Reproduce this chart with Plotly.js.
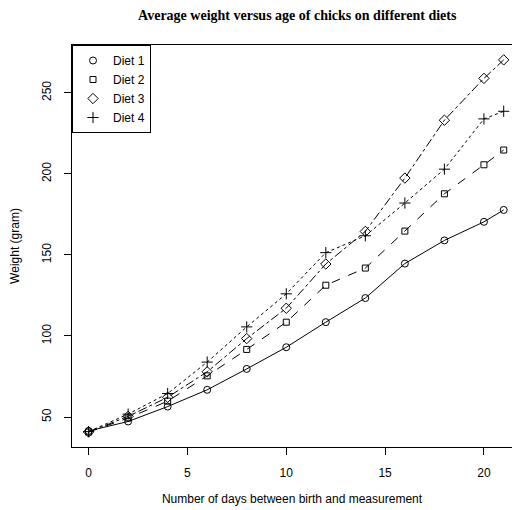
<!DOCTYPE html>
<html>
<head>
<meta charset="utf-8">
<script src="https://cdn.plot.ly/plotly-3.0.1.min.js"></script>
<style>html,body{margin:0;padding:0;background:#fff;}#chart{width:512px;height:510px;}</style>
</head>
<body>
<div id="chart"></div>
<script>
const days = [0, 2, 4, 6, 8, 10, 12, 14, 16, 18, 20, 21];
const diet1 = [41.4, 47.25, 56.47, 66.79, 79.68, 93.05, 108.53, 123.39, 144.65, 158.94, 170.41, 177.75];
const diet2 = [40.7, 49.4, 59.8, 75.4, 91.7, 108.5, 131.3, 141.9, 164.7, 187.7, 205.6, 214.7];
const diet3 = [40.8, 50.4, 62.2, 77.9, 98.4, 117.1, 144.4, 164.5, 197.4, 233.1, 258.9, 270.3];
const diet4 = [41.0, 51.8, 64.5, 83.9, 105.6, 126.0, 151.4, 161.8, 182.0, 202.9, 233.9, 238.6];
const seriesNames = ['Diet 1', 'Diet 2', 'Diet 3', 'Diet 4'];
const xTicks = [0, 5, 10, 15, 20];
const yTicks = [50, 100, 150, 200, 250];

const allY = [].concat(diet1, diet2, diet3, diet4);
const yMin = Math.min(...allY), yMax = Math.max(...allY);
const yPad = (yMax - yMin) * 0.04;
const xPad = 21 * 0.04;

const styles = [
  {symbol: 'circle-open', dash: 'solid', size: 7},
  {symbol: 'square-open', dash: 'dash', size: 6},
  {symbol: 'diamond-open', dash: 'dashdot', size: 8},
  {symbol: 'cross-thin-open', dash: 'dot', size: 8}
];
const data = [diet1, diet2, diet3, diet4].map((ys, i) => ({
  x: days, y: ys, name: seriesNames[i], type: 'scatter', mode: 'lines+markers', showlegend: false,
  line: {color: '#000', width: 1, dash: styles[i].dash},
  marker: {symbol: styles[i].symbol, size: styles[i].size, color: '#000', line: {color: '#000', width: 1}}
}));
seriesNames.forEach((n, i) => data.push({
  x: [null], y: [null], name: n, type: 'scatter', mode: 'markers', showlegend: true,
  marker: {symbol: styles[i].symbol, size: styles[i].size, color: '#000', line: {color: '#000', width: 1}}
}));

const font = {family: 'Liberation Sans, Arial, sans-serif', size: 12, color: '#000'};
const layout = {
  width: 512, height: 510,
  margin: {l: 72, r: 0, t: 45, b: 63},
  paper_bgcolor: '#fff', plot_bgcolor: '#fff',
  font: font,
  title: {text: '<b>Average weight versus age of chicks on different diets</b>',
    font: {family: 'Liberation Serif, Times New Roman, serif', size: 14, color: '#000'},
    x: 0.512, xref: 'paper', xanchor: 'center', y: 0.971, yref: 'container', yanchor: 'middle'},
  xaxis: {range: [-xPad, 21.42], tickvals: xTicks, ticktext: xTicks.map(String),
    ticks: 'outside', ticklen: 7, tickcolor: '#000', showgrid: false, zeroline: false,
    showline: true, mirror: true, linecolor: '#000', linewidth: 1, tickfont: font, ticklabelstandoff: 8,
    title: {text: 'Number of days between birth and measurement', font: font, standoff: 15}},
  yaxis: {range: [yMin - yPad, yMax + yPad], tickvals: yTicks, ticktext: yTicks.map(String),
    tickangle: -90, ticks: 'outside', ticklen: 7, tickcolor: '#000', showgrid: false, zeroline: false,
    showline: true, mirror: false, linecolor: '#000', linewidth: 1, tickfont: font, ticklabelstandoff: 8,
    title: {text: 'Weight (gram)', font: font, standoff: 18}},
  showlegend: true,
  legend: {x: 0, y: 1, xanchor: 'left', yanchor: 'top', bgcolor: '#fff', bordercolor: '#000', borderwidth: 1,
    font: font, itemwidth: 30, tracegroupgap: 0}
};
Plotly.newPlot('chart', data, layout, {displayModeBar: false, staticPlot: true});
</script>
</body>
</html>
